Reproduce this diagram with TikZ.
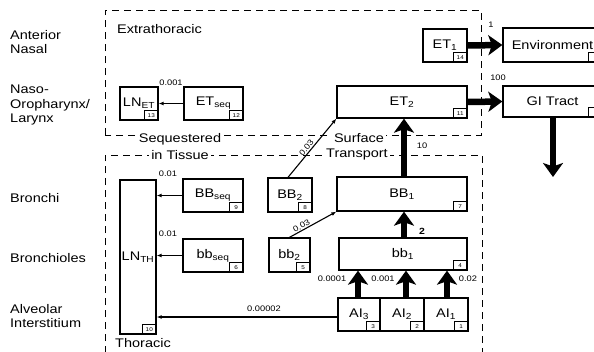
\documentclass[tikz,border=0pt]{standalone}
\usepackage{fontspec}
\setmainfont{Liberation Sans}[FakeStretch=1.16]
\usetikzlibrary{arrows.meta}
\begin{document}
\begin{tikzpicture}[x=1pt,y=-1pt,
  box/.style={draw, line width=1.3pt, inner sep=0pt, fill=white, font=\fontsize{12.5}{14}\selectfont},
  numbox/.style={draw, line width=0.8pt, minimum width=14pt, minimum height=10pt, inner sep=0pt, font=\fontsize{5.5}{5.5}\selectfont, anchor=south east},
  region/.style={line width=1pt, dash pattern=on 7pt off 5pt},
  flow/.style={line width=6.5pt, -{Stealth[length=14pt,width=20pt,inset=3.5pt]}},
  thinflow/.style={line width=1.1pt, -{Latex[length=5pt,width=4pt]}},
  rate/.style={font=\fontsize{8}{9}\selectfont, inner sep=1pt},
  lbl/.style={font=\fontsize{12.5}{14.5}\selectfont, align=left, anchor=west, inner sep=0pt},
  mask/.style={font=\fontsize{12.5}{14}\selectfont, fill=white, inner sep=2pt}
]
\useasboundingbox (0,0) rectangle (594,351);
\clip (0,0) rectangle (594,351);

% regions
\draw[region] (105,135) -- (105,10) -- (481,10) -- (481,135) -- cycle;
\draw[region] (105,365) -- (105,155) -- (482,155) -- (482,365);

\node[lbl] (extra) at (117,29) {Extrathoracic};
\node[lbl] (thor) at (115,343) {Thoracic};
\node[mask] (seq1) at (180,139) {Sequestered};
\node[mask] (seq2) at (180,155) {in Tissue};
\node[mask] (surf1) at (359,138) {Surface};
\node[mask] (surf2) at (357,154) {Transport};

% left labels
\node[lbl] (lan) at (10,42) {Anterior\\Nasal};
\node[lbl] (lnaso) at (10,105) {Naso-\\Oropharynx/\\Larynx};
\node[lbl] (lbr) at (10,198) {Bronchi};
\node[lbl] (lbrl) at (10,258) {Bronchioles};
\node[lbl] (lalv) at (10,316) {Alveolar\\Interstitium};

% boxes
\node[box, minimum width=44pt, minimum height=33pt] (ET1) at (445,45.5) {ET\textsubscript{1}};
\node[box, minimum width=99pt, minimum height=34pt] (Env) at (552.5,45) {Environment};
\node[box, minimum width=130pt, minimum height=32pt] (ET2) at (402,102) {ET\textsubscript{2}};
\node[box, minimum width=99pt, minimum height=31pt] (GI) at (552.5,101.5) {GI Tract};
\node[box, minimum width=38pt, minimum height=33pt] (LNET) at (139,103.5) {LN\textsubscript{ET}};
\node[box, minimum width=59pt, minimum height=33pt] (ETseq) at (213.5,103.5) {ET\textsubscript{seq}};
\node[box, minimum width=36pt, minimum height=154pt] (LNTH) at (138,257) {LN\textsubscript{TH}};
\node[box, minimum width=60pt, minimum height=33pt] (BBseq) at (213,195.5) {BB\textsubscript{seq}};
\node[box, minimum width=60pt, minimum height=33pt] (bbseq) at (213,255.5) {bb\textsubscript{seq}};
\node[box, minimum width=44pt, minimum height=34pt] (BB2) at (290,195) {BB\textsubscript{2}};
\node[box, minimum width=41pt, minimum height=34pt] (bb2) at (289.5,255) {bb\textsubscript{2}};
\node[box, minimum width=130pt, minimum height=34pt] (BB1) at (402,194) {BB\textsubscript{1}};
\node[box, minimum width=128pt, minimum height=32pt] (bb1) at (403,254) {bb\textsubscript{1}};
\node[box, minimum width=42pt, minimum height=33pt] (AI3) at (359,314.5) {AI\textsubscript{3}};
\node[box, minimum width=44pt, minimum height=33pt] (AI2) at (402,314.5) {AI\textsubscript{2}};
\node[box, minimum width=44pt, minimum height=33pt] (AI1) at (446,314.5) {AI\textsubscript{1}};

% compartment numbers
\node[numbox] (n14) at (ET1.south east) {14};
\node[numbox] (n16) at (Env.south east) {};
\node[numbox] (n11) at (ET2.south east) {11};
\node[numbox] (n15) at (GI.south east) {};
\node[numbox] (n13) at (LNET.south east) {13};
\node[numbox] (n12) at (ETseq.south east) {12};
\node[numbox] (n10) at (LNTH.south east) {10};
\node[numbox] (n9) at (BBseq.south east) {9};
\node[numbox] (n6) at (bbseq.south east) {6};
\node[numbox] (n8) at (BB2.south east) {8};
\node[numbox] (n5) at (bb2.south east) {5};
\node[numbox] (n7) at (BB1.south east) {7};
\node[numbox] (n4) at (bb1.south east) {4};
\node[numbox] (n3) at (AI3.south east) {3};
\node[numbox] (n2) at (AI2.south east) {2};
\node[numbox] (n1) at (AI1.south east) {1};

% thick flows
\draw[flow] (ET1.east) -- (Env.west);
\draw[flow] (ET2.east) -- (GI.west);
\coordinate (gidown) at (553,177);
\draw[flow] (GI.south -| gidown) -- (gidown);
\draw[flow] (BB1.north -| 404,0) -- (ET2.south -| 404,0);
\draw[flow] (bb1.north -| 404,0) -- (BB1.south -| 404,0);
\draw[flow] (AI3.north -| 358,0) -- (bb1.south -| 358,0);
\draw[flow] (AI2.north -| 406,0) -- (bb1.south -| 406,0);
\draw[flow] (AI1.north -| 447,0) -- (bb1.south -| 447,0);

% thin flows
\draw[thinflow] (ETseq.west) -- (LNET.east);
\draw[thinflow] (BBseq.west) -- (BBseq.west -| LNTH.east);
\draw[thinflow] (bbseq.west) -- (bbseq.west -| LNTH.east);
\draw[thinflow] (AI3.west |- 0,317) -- (LNTH.east |- 0,317);
\draw[thinflow] (BB2.north -| 288,0) -- (ET2.south west) node[rate, sloped, above, pos=0.45] (r03a) {0.03};
\draw[thinflow] (bb2.north) -- (BB1.south west) node[rate, sloped, above, pos=0.3] (r03b) {0.03};

% rate labels
\node[rate] (r001) at (171,83) {0.001};
\node[rate] (r01a) at (168,174) {0.01};
\node[rate] (r01b) at (168,234) {0.01};
\node[rate] (r00002) at (264,309) {0.00002};
\node[rate] (r0001) at (332,279) {0.0001};
\node[rate] (r001b) at (383,279) {0.001};
\node[rate] (r002) at (468,279) {0.02};
\node[rate] (r2) at (422,231) {\fontsize{9}{10}\selectfont\bfseries 2};
\node[rate] (r10) at (422,146) {10};
\node[rate] (r1) at (491,25) {1};
\node[rate] (r100) at (498,78) {100};
\end{tikzpicture}
\end{document}
